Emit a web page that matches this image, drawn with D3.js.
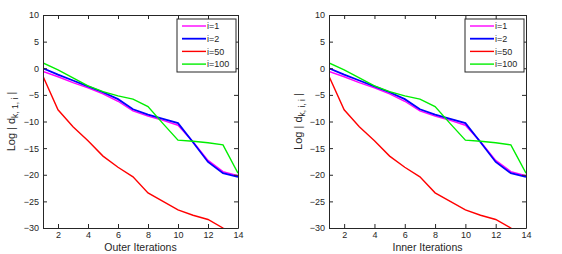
<!DOCTYPE html>
<html>
<head>
<meta charset="utf-8">
<script src="https://cdn.jsdelivr.net/npm/d3@7"></script>
<style>
  body { margin: 0; background: #fff; }
  svg text { font-family: "Liberation Sans", Arial, sans-serif; fill: #262626; }
</style>
</head>
<body>
<svg id="chart" width="562" height="254"></svg>
<script>
const iterations = [1, 2, 3, 4, 5, 6, 7, 8, 9, 10, 11, 12, 13, 14];
const xTicks = [2, 4, 6, 8, 10, 12, 14];
const yTicks = [10, 5, 0, -5, -10, -15, -20, -25, -30];

const seriesNames = ["i=1", "i=2", "i=50", "i=100"];
const seriesColors = ["#ff00ff", "#0000ff", "#ff0000", "#00ee00"];

const i1 = [-0.6, -1.6, -2.7, -3.7, -4.8, -6.2, -8.0, -9.0, -9.8, -10.7, -13.8, -17.3, -19.4, -20.2];
const i2 = [0.0, -1.2, -2.3, -3.4, -4.5, -5.8, -7.7, -8.7, -9.5, -10.3, -13.9, -17.6, -19.7, -20.4];
const i50 = [-1.5, -7.8, -11.0, -13.6, -16.5, -18.6, -20.4, -23.4, -25.0, -26.6, -27.6, -28.4, -30.0, -31.5];
const i100 = [1.0, -0.3, -1.8, -3.3, -4.4, -5.2, -5.8, -7.2, -10.4, -13.5, -13.7, -14.0, -14.4, -19.7];

const panels = [
  {left: 43, right: 238, xLabel: "Outer Iterations", sub: "k, 1, i", labelX: 15, id: "a"},
  {left: 329, right: 526, xLabel: "Inner Iterations", sub: "k, i, i", labelX: 302, id: "b"}
];
const plotTop = 15, plotBottom = 228;

const svg = d3.select("#chart");
const allSeries = [i1, i2, i50, i100];

panels.forEach(p => {
  const x = d3.scaleLinear().domain([1, 14]).range([p.left, p.right]);
  const y = d3.scaleLinear().domain([-30, 10]).range([plotBottom, plotTop]);

  svg.append("clipPath").attr("id", "clip-" + p.id)
    .append("rect").attr("x", p.left).attr("y", plotTop)
    .attr("width", p.right - p.left).attr("height", plotBottom - plotTop);

  const line = d3.line().x((d, i) => x(iterations[i])).y(d => y(d));
  const g = svg.append("g").attr("clip-path", `url(#clip-${p.id})`);
  allSeries.forEach((s, k) => {
    g.append("path")
      .attr("d", line(s))
      .attr("fill", "none")
      .attr("stroke", seriesColors[k])
      .attr("stroke-width", k === 1 ? 1.8 : 1.4);
  });

  // axes (MATLAB-style box with inward ticks)
  const axStyle = a => {
    a.select(".domain").attr("stroke", "#262626");
    a.selectAll(".tick line").attr("stroke", "#262626");
    a.selectAll(".tick text").attr("font-size", 9).attr("fill", "#262626")
      .style("font-family", "Liberation Sans, Arial, sans-serif");
  };
  svg.append("g").attr("transform", `translate(0,${plotBottom})`)
    .call(d3.axisBottom(x).tickValues(xTicks).tickSize(-4).tickSizeOuter(0).tickPadding(4))
    .call(axStyle);
  svg.append("g").attr("transform", `translate(0,${plotTop})`)
    .call(d3.axisTop(x).tickValues(xTicks).tickSize(-4).tickSizeOuter(0).tickFormat(""))
    .call(axStyle);
  svg.append("g").attr("transform", `translate(${p.left},0)`)
    .call(d3.axisLeft(y).tickValues(yTicks).tickSize(-4).tickSizeOuter(0).tickPadding(4))
    .call(axStyle);
  svg.append("g").attr("transform", `translate(${p.right},0)`)
    .call(d3.axisRight(y).tickValues(yTicks).tickSize(-4).tickSizeOuter(0).tickFormat(""))
    .call(axStyle);

  // x label
  svg.append("text")
    .attr("x", (p.left + p.right) / 2).attr("y", 251)
    .attr("text-anchor", "middle").attr("font-size", 10.5)
    .text(p.xLabel);

  // y label with subscript
  const yl = svg.append("text")
    .attr("transform", `translate(${p.labelX},${(plotTop + plotBottom) / 2}) rotate(-90)`)
    .attr("text-anchor", "middle").attr("font-size", 11);
  yl.append("tspan").text("Log | d");
  yl.append("tspan").attr("font-size", 8.5).attr("dy", 3).text(p.sub);
  yl.append("tspan").attr("dy", -3).text(" |");

  // legend
  const lx0 = p.right - 61, ly0 = 19, lw = 59, lh = 53;
  const lg = svg.append("g");
  lg.append("rect").attr("x", lx0).attr("y", ly0).attr("width", lw).attr("height", lh)
    .attr("fill", "#fff").attr("stroke", "#262626").attr("stroke-width", 1);
  seriesNames.forEach((name, k) => {
    const yy = ly0 + 7 + k * 12.7;
    lg.append("line").attr("x1", lx0 + 5).attr("x2", lx0 + 29)
      .attr("y1", yy).attr("y2", yy)
      .attr("stroke", seriesColors[k]).attr("stroke-width", k === 1 ? 1.8 : 1.4);
    lg.append("text").attr("x", lx0 + 30).attr("y", yy + 3.3)
      .attr("font-size", 9).text(name);
  });
});
</script>
</body>
</html>
